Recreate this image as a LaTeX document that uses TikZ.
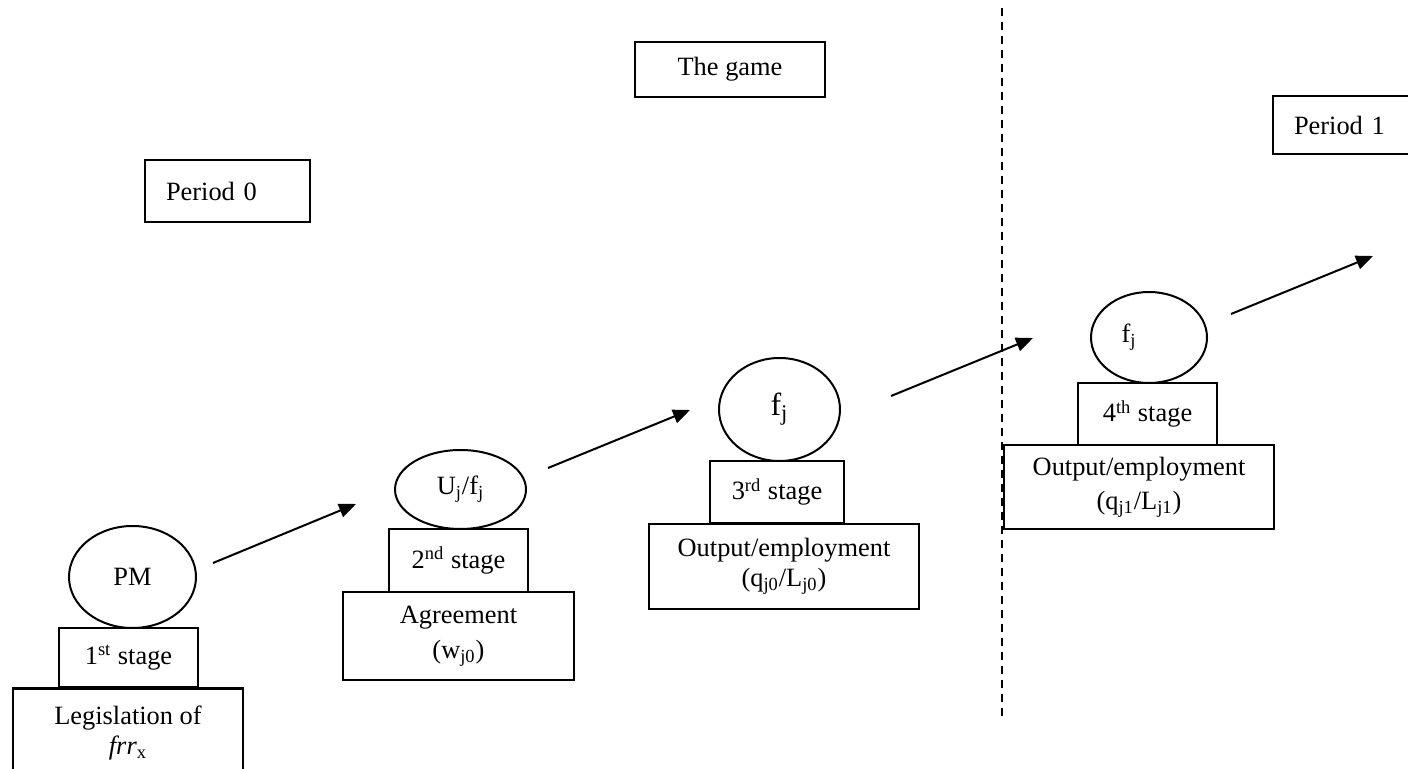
\documentclass[tikz,border=0pt]{standalone}
\usepackage{fontspec}
\setmainfont{Liberation Serif}
\usetikzlibrary{shapes.geometric,arrows.meta}
\begin{document}
\begin{tikzpicture}[x=0.5pt,y=-0.5pt,
  txt/.style={font=\fontsize{13.2}{15}\selectfont},
  box/.style={draw, line width=1.1pt, rectangle, inner sep=0pt, align=center, txt},
  oval/.style={draw, line width=1pt, ellipse, inner sep=0pt, align=center, txt},
  tag/.style={box, align=left, inner xsep=10.5pt, text width=61.5pt},
  flow/.style={line width=1pt, -{Triangle[length=8.5pt,width=7pt]}},
  divider/.style={line width=1pt, dash pattern=on 4.2pt off 2.8pt}]
\clip (0,0) rectangle (1408,769);
\fill[white] (0,0) rectangle (1408,769);

% titles
\node[box, minimum width=95pt, minimum height=27.5pt] (game) at (730,69.5) {The game};
\node[tag, minimum height=31pt] (p0) at (227.5,191) {Period 0};
\node[tag, minimum height=29pt] (p1) at (1355.5,125) {Period 1};

% stage 1
\node[oval, minimum width=63.5pt, minimum height=51pt] (pm) at (132.5,577) {PM};
\node[box, minimum width=69.5pt, minimum height=29.5pt] (s1) at (128.5,657.5) {1\textsuperscript{st} stage};
\node[box, minimum width=115pt, minimum height=44.5pt] (leg) at (128,733) {Legislation of\\\textit{frr}\textsubscript{x}};

% stage 2
\node[oval, minimum width=65.5pt, minimum height=39.5pt] (uf) at (460.5,489.5) {U\textsubscript{j}/f\textsubscript{j}};
\node[box, minimum width=69.5pt, minimum height=31.5pt] (s2) at (458.5,560.5) {2\textsuperscript{nd} stage};
\node[box, minimum width=115.5pt, minimum height=44pt] (agr) at (458.5,636) {Agreement\\[2.5pt](w\textsubscript{j0})};

% stage 3
\node[oval, minimum width=60.5pt, minimum height=51.5pt, font=\fontsize{16}{18}\selectfont] (f3) at (779.5,409.5) {f\textsubscript{j}};
\node[box, minimum width=67pt, minimum height=31pt] (s3) at (777,492) {3\textsuperscript{rd} stage};
\node[box, minimum width=135pt, minimum height=42.5pt] (out3) at (784,566.5) {Output/employment\\(q\textsubscript{j0}/L\textsubscript{j0})};

% stage 4
\node[oval, minimum width=58pt, minimum height=45.5pt] (f4) at (1149,337.5) {f\textsubscript{j}\hspace{20pt}};
\node[box, minimum width=69.5pt, minimum height=31pt] (s4) at (1147.5,414) {4\textsuperscript{th} stage};
\node[box, minimum width=135pt, minimum height=42pt] (out4) at (1139,487) {Output/employment\\[2pt](q\textsubscript{j1}/L\textsubscript{j1})};

% period divider
\coordinate (dtop) at (1002,8);
\coordinate (dbot) at (1002,717);
\draw[divider] (dtop) -- (dbot);

% arrows between stages
\coordinate (a1s) at (213,563);  \coordinate (a1e) at (356,504);
\coordinate (a2s) at (548,468);  \coordinate (a2e) at (690,410);
\coordinate (a3s) at (891,396);  \coordinate (a3e) at (1033,338);
\coordinate (a4s) at (1231,314); \coordinate (a4e) at (1373,256);
\draw[flow] (a1s) -- (a1e);
\draw[flow] (a2s) -- (a2e);
\draw[flow] (a3s) -- (a3e);
\draw[flow] (a4s) -- (a4e);
\end{tikzpicture}
\end{document}
